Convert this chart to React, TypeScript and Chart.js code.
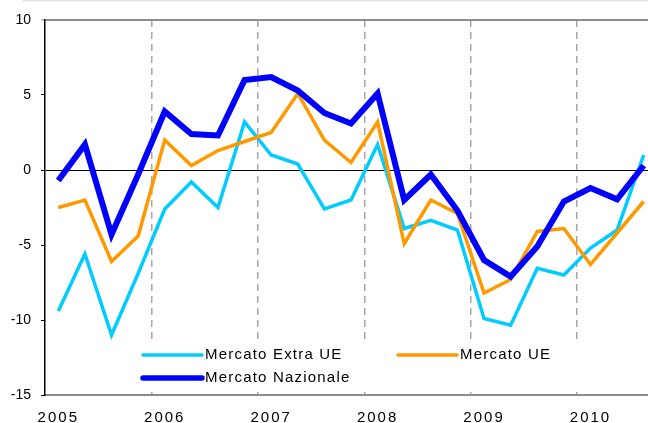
import React, { useEffect, useRef } from 'react';
import { Chart, registerables } from 'chart.js';

Chart.register(...registerables);

// Quarterly categories (2005 Q1 .. 2010 Q3)
const categories = [
  '2005 T1', '2005 T2', '2005 T3', '2005 T4',
  '2006 T1', '2006 T2', '2006 T3', '2006 T4',
  '2007 T1', '2007 T2', '2007 T3', '2007 T4',
  '2008 T1', '2008 T2', '2008 T3', '2008 T4',
  '2009 T1', '2009 T2', '2009 T3', '2009 T4',
  '2010 T1', '2010 T2', '2010 T3',
];
const yearLabels = ['2005', '2006', '2007', '2008', '2009', '2010'];

const extraUe = [-9.4, -5.6, -11.0, -6.9, -2.6, -0.8, -2.5, 3.2, 1.0, 0.4, -2.6, -2.0, 1.7, -3.9, -3.35, -4.0, -9.9, -10.35, -6.55, -7.0, -5.2, -4.0, 1.0];
const ue = [-2.5, -2.0, -6.1, -4.4, 2.0, 0.3, 1.3, 1.9, 2.5, 5.1, 2.0, 0.5, 3.2, -4.9, -2.0, -2.9, -8.2, -7.3, -4.1, -3.9, -6.3, -4.2, -2.1];
const nazionale = [-0.7, 1.7, -4.3, -0.3, 3.9, 2.4, 2.3, 6.0, 6.2, 5.3, 3.8, 3.1, 5.1, -2.0, -0.3, -2.7, -6.0, -7.1, -5.1, -2.1, -1.2, -1.95, 0.3];

const seriesNames = ['Mercato Extra UE', 'Mercato UE', 'Mercato Nazionale'];

const FONT = "'Liberation Sans', Arial, sans-serif";

const legendSlots = [
  { ds: 0, x: 143, y: 355 },
  { ds: 1, x: 398, y: 355 },
  { ds: 2, x: 143, y: 378 },
];

const decorPlugin = {
  id: 'decor',
  beforeDraw(chart: any) {
    const ctx = chart.ctx;
    ctx.save();
    ctx.fillStyle = '#e2e2e2';
    ctx.fillRect(23, 0, chart.width, 1.5);
    ctx.restore();
  },
  beforeDatasetsDraw(chart: any) {
    const ctx = chart.ctx;
    ctx.save();
    ctx.fillStyle = '#ffffff';
    ctx.fillRect(138, 343, 466, 47);
    ctx.restore();
  },
  afterDatasetsDraw(chart: any) {
    (chart.ctx as any).letterSpacing = '2px';
  },
  afterDraw(chart: any) {
    const ctx = chart.ctx as any;
    ctx.letterSpacing = '0px';
    ctx.save();
    ctx.font = `15px ${FONT}`;
    ctx.letterSpacing = '1.2px';
    ctx.textBaseline = 'middle';
    ctx.textAlign = 'left';
    legendSlots.forEach((s) => {
      const d = chart.data.datasets[s.ds];
      ctx.strokeStyle = d.borderColor;
      ctx.lineWidth = Math.min(d.borderWidth, 5.5);
      ctx.lineCap = 'round';
      ctx.beginPath();
      ctx.moveTo(s.x, s.y);
      ctx.lineTo(s.x + 59, s.y);
      ctx.stroke();
      ctx.fillStyle = '#000';
      ctx.fillText(d.label, s.x + 62, s.y);
    });
    ctx.restore();
  },
};

export default function App() {
  const ref = useRef<HTMLCanvasElement | null>(null);

  useEffect(() => {
    if (!ref.current) return;
    const chart = new Chart(ref.current, {
      type: 'line',
      data: {
        labels: categories,
        datasets: [
          { label: seriesNames[0], data: extraUe, borderColor: '#00CCFF', backgroundColor: '#00CCFF', borderWidth: 3.5, pointRadius: 0, tension: 0, order: 2 },
          { label: seriesNames[1], data: ue, borderColor: '#FF9900', backgroundColor: '#FF9900', borderWidth: 3.5, pointRadius: 0, tension: 0, order: 1 },
          { label: seriesNames[2], data: nazionale, borderColor: '#0000FF', backgroundColor: '#0000FF', borderWidth: 6, pointRadius: 0, tension: 0, order: 0 },
        ],
      },
      options: {
        animation: false,
        responsive: false,
        layout: { padding: { left: 0, top: 20, right: 3, bottom: 0 } },
        plugins: { legend: { display: false }, tooltip: { enabled: false } },
        scales: {
          x: {
            type: 'category',
            offset: true,
            afterFit: (s: any) => { s.height = 28; },
            grid: {
              offset: true,
              drawTicks: false,
              lineWidth: 1.5,
              color: (c: any) => (c.index > 0 && c.index % 4 === 0 ? '#a8a8a8' : 'rgba(0,0,0,0)'),
            },
            border: { display: true, color: '#8c8c8c', width: 2, dash: [7, 5] },
            ticks: {
              z: 1,
              autoSkip: false,
              maxRotation: 0,
              padding: 14,
              color: '#000',
              font: { family: FONT, size: 15 },
              callback: (_v: any, i: number) => (i % 4 === 0 ? yearLabels[i / 4] : ''),
            },
          },
          y: {
            min: -15,
            max: 10,
            afterFit: (s: any) => { s.width = 45; },
            grid: {
              drawTicks: true,
              tickLength: 4,
              tickWidth: 1,
              tickColor: (c: any) => (c.tick && c.tick.value === 10 ? '#8c8c8c' : '#000'),
              color: (c: any) => {
                const v = c.tick && c.tick.value;
                if (v === 0) return '#000';
                if (v === 10) return '#8c8c8c';
                return 'rgba(0,0,0,0)';
              },
              lineWidth: (c: any) => (c.tick && c.tick.value === 10 ? 2 : 1),
            },
            border: { display: true, color: '#000', width: 1.5 },
            ticks: {
              stepSize: 5,
              padding: 10,
              color: '#000',
              font: { family: FONT, size: 14 },
            },
          },
        },
      },
      plugins: [decorPlugin],
    } as any);
    return () => chart.destroy();
  }, []);

  return (
    <div style={{ position: 'fixed', left: 0, top: 0, width: 648, height: 423, overflow: 'hidden', background: '#fff' }}>
      <canvas ref={ref} width={660} height={423} style={{ display: 'block' }} />
    </div>
  );
}
